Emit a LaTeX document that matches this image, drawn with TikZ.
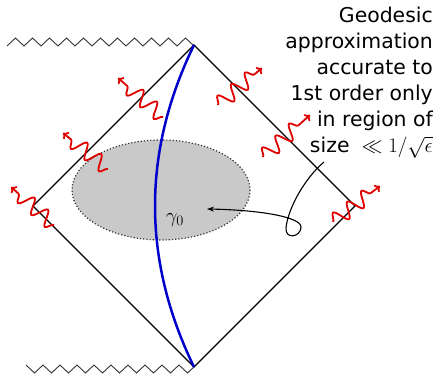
\documentclass[tikz,border=0pt]{standalone}
\usepackage{fontspec}
\setmainfont{DejaVu Sans}
\usetikzlibrary{decorations.pathmorphing,arrows.meta}
\definecolor{photon}{RGB}{225,0,0}
\definecolor{geo}{RGB}{0,0,205}
\begin{document}
\begin{tikzpicture}[x=1pt,y=-1pt,
  bigfont/.style={font=\fontsize{20.4}{26}\selectfont},
  edge/.style={draw=black,line width=1.2pt},
  singular/.style={draw=black!80,line width=0.9pt},
  wave/.style={draw=photon,line width=1.8pt,decorate,
    decoration={snake,amplitude=7.5pt,segment length=18pt,post length=7pt},
    -{To[length=5pt,width=9pt]}},
  pointer/.style={draw=black,line width=1.1pt,-{Stealth[length=7pt,width=5pt]}}]
\useasboundingbox (0,0) rectangle (438,374);
% region
\draw[fill=black!21,draw=black!80,line width=1.2pt,dotted] (161,190) ellipse [x radius=89,y radius=50];
% diamond
\coordinate (top) at (194,45);
\coordinate (right) at (355,206);
\coordinate (bottom) at (194,367);
\coordinate (left) at (33,206);
\draw[edge] (top) -- (right) -- (bottom) -- (left) -- cycle;
% singularities
\draw[singular] (7,46) foreach \i in {0,...,10} { -- ++(8.5,-8) -- ++(8.5,8) };
\draw[singular] (26,365) foreach \i in {0,...,8} { -- ++(8.5,8) -- ++(8.5,-8) } -- (187.5,373) -- (bottom);
% geodesic
\draw[geo,line width=2.5pt] (top) .. controls (142,152) and (142,260) .. (bottom);
\node[bigfont,inner sep=0] (gamma) at (175,220) {$\gamma_0$};
% photons
\coordinate (p1s) at (163,117); \coordinate (p1e) at (118,78);
\coordinate (p2s) at (108,169); \coordinate (p2e) at (63,133);
\coordinate (p3s) at (54,225);  \coordinate (p3e) at (11,187);
\coordinate (p4s) at (218,105); \coordinate (p4e) at (262,68);
\coordinate (p5s) at (263,157); \coordinate (p5e) at (310,115);
\coordinate (p6s) at (333,222); \coordinate (p6e) at (380,186);
\foreach \k in {1,...,6} { \draw[wave] (p\k s) -- (p\k e); }
% label
\node[bigfont,anchor=north east,align=right,inner sep=0] (label) at (433,7)
  {Geodesic\\approximation\\accurate to\\1st order only\\in region of\\size $\;\ll 1/\sqrt{\epsilon}$};
\coordinate (tail) at (324,162);
\coordinate (tip) at (207,209);
\draw[pointer] (tail) .. controls (305,178) and (288,208) .. (286,228)
  .. controls (285,240) and (301,237) .. (301,227)
  .. controls (301,217) and (260,210) .. (tip);
\end{tikzpicture}
\end{document}
